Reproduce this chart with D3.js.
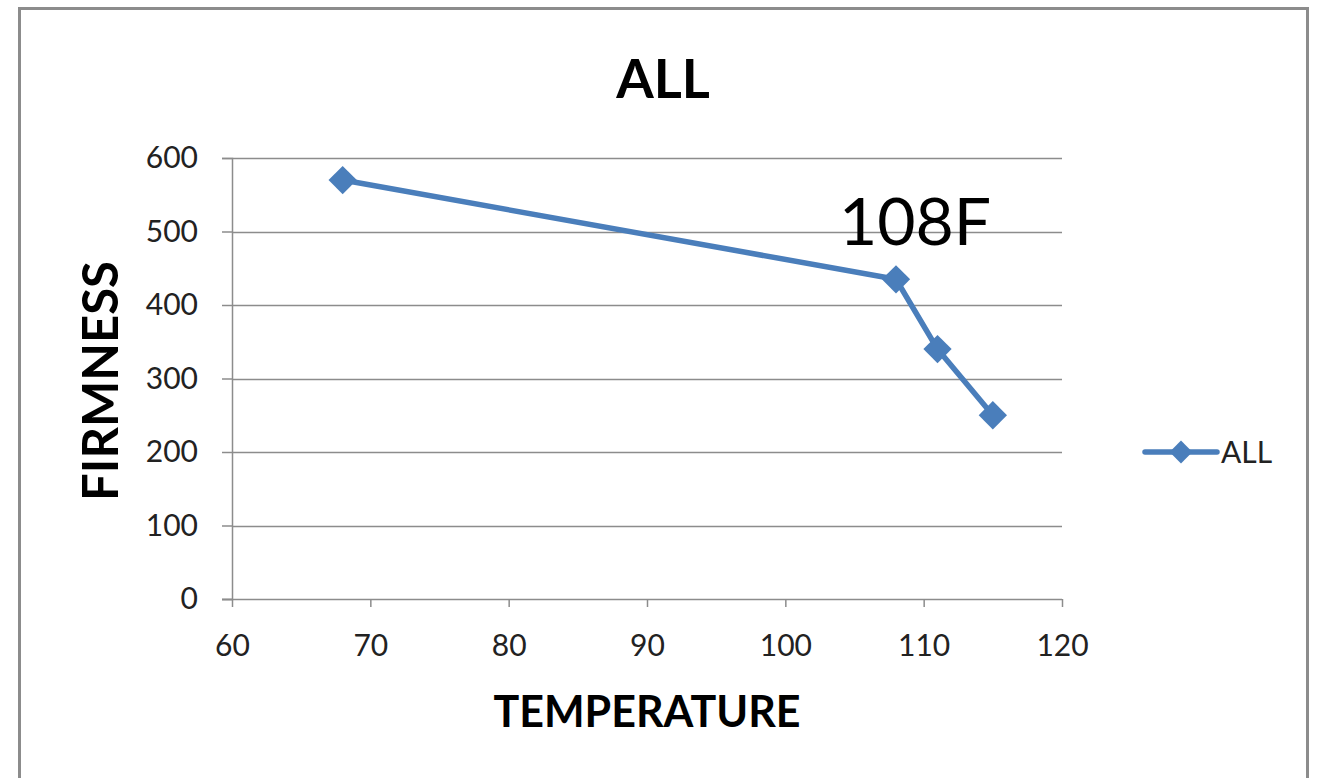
<!DOCTYPE html>
<html>
<head>
<meta charset="utf-8">
<script src="https://cdn.jsdelivr.net/npm/d3@7"></script>
<style>
  body { margin: 0; background: #fff; }
  svg { display: block; }
  text { font-family: Lato, "Open Sans", sans-serif; }
</style>
</head>
<body>
<svg></svg>
<script>
// Chart data
const temperatures = [68, 108, 111, 115];
const firmness = [570, 435, 340, 250];
const xTicks = [60, 70, 80, 90, 100, 110, 120];
const yTicks = [0, 100, 200, 300, 400, 500, 600];
const seriesName = "ALL";
const annotation = { x: 108, label: "108F" };

const svgWidth = 1324;
const svgHeight = 778;
const plot = { left: 232, right: 1062, top: 158, bottom: 599 };
const blue = "#4a7ebb";

const svg = d3.select("svg")
    .attr("width", svgWidth)
    .attr("height", svgHeight);

// Outer chart frame
svg.append("rect")
    .attr("x", 19.5)
    .attr("y", 8.5)
    .attr("width", 1288)
    .attr("height", 800)
    .attr("fill", "white")
    .attr("stroke", "#8c8c8c")
    .attr("stroke-width", 3);

const x = d3.scaleLinear().domain([60, 120]).range([plot.left, plot.right]);
const y = d3.scaleLinear().domain([0, 600]).range([plot.bottom, plot.top]);

// Horizontal grid lines
svg.append("g")
    .selectAll("line")
    .data(yTicks.filter(d => d > 0))
    .enter()
    .append("line")
    .attr("x1", plot.left)
    .attr("x2", plot.right)
    .attr("y1", d => Math.round(y(d)) + 0.5)
    .attr("y2", d => Math.round(y(d)) + 0.5)
    .attr("stroke", "#8c8c8c")
    .attr("stroke-width", 1.5);

// Y axis
const yAxis = svg.append("g")
    .attr("transform", `translate(${plot.left},0)`)
    .call(d3.axisLeft(y).tickValues(yTicks).tickSize(10).tickPadding(24));
yAxis.select(".domain").attr("stroke", "#8c8c8c").attr("stroke-width", 1.5);
yAxis.selectAll(".tick line").attr("stroke", "#8c8c8c").attr("stroke-width", 1.5);
yAxis.selectAll("text")
    .attr("fill", "#222")
    .style("font-size", "30px")
    .style("font-family", "Lato, 'Open Sans', sans-serif");

// X axis
const xAxis = svg.append("g")
    .attr("transform", `translate(0,${plot.bottom})`)
    .call(d3.axisBottom(x).tickValues(xTicks).tickSize(8).tickPadding(28));
xAxis.select(".domain").attr("stroke", "#8c8c8c").attr("stroke-width", 1.5)
    .attr("d", `M${plot.left - 10},0.5H${plot.right}`);
xAxis.selectAll(".tick line").attr("stroke", "#8c8c8c").attr("stroke-width", 1.5);
xAxis.selectAll("text")
    .attr("fill", "#222")
    .style("font-size", "30px")
    .style("font-family", "Lato, 'Open Sans', sans-serif");

// Series line
const points = temperatures.map((t, i) => ({ t: t, f: firmness[i] }));
svg.append("path")
    .datum(points)
    .attr("fill", "none")
    .attr("stroke", blue)
    .attr("stroke-width", 5.5)
    .attr("stroke-linejoin", "round")
    .attr("d", d3.line().x(d => x(d.t)).y(d => y(d.f)));

// Diamond markers
const diamond = d3.symbol().type(d3.symbolSquare).size(400);
svg.selectAll(".marker")
    .data(points)
    .enter()
    .append("path")
    .attr("class", "marker")
    .attr("d", diamond)
    .attr("transform", d => `translate(${x(d.t)},${y(d.f)}) rotate(45)`)
    .attr("fill", blue);

// Annotation
svg.append("text")
    .attr("x", x(annotation.x) + 19)
    .attr("y", 245)
    .attr("text-anchor", "middle")
    .style("font-size", "66px")
    .attr("fill", "#000")
    .text(annotation.label);

// Title
svg.append("text")
    .attr("x", 663)
    .attr("y", 98)
    .attr("text-anchor", "middle")
    .style("font-size", "54px")
    .style("font-weight", "bold")
    .text("ALL");

// Axis titles
svg.append("text")
    .attr("x", 647)
    .attr("y", 727)
    .attr("text-anchor", "middle")
    .style("font-size", "43px")
    .style("font-weight", "bold")
    .text("TEMPERATURE");

svg.append("text")
    .attr("transform", `translate(118,381) rotate(-90)`)
    .attr("text-anchor", "middle")
    .style("font-size", "49px")
    .style("font-weight", "bold")
    .text("FIRMNESS");

// Legend
const legend = svg.append("g").attr("transform", "translate(1145,452)");
legend.append("line")
    .attr("x1", 0).attr("x2", 72)
    .attr("stroke", blue)
    .attr("stroke-width", 5.5)
    .attr("stroke-linecap", "round");
legend.append("path")
    .attr("d", d3.symbol().type(d3.symbolSquare).size(260))
    .attr("transform", "translate(36,0) rotate(45)")
    .attr("fill", blue);
legend.append("text")
    .attr("x", 76)
    .attr("y", 11)
    .style("font-size", "30px")
    .attr("fill", "#222")
    .text(seriesName);
</script>
</body>
</html>
